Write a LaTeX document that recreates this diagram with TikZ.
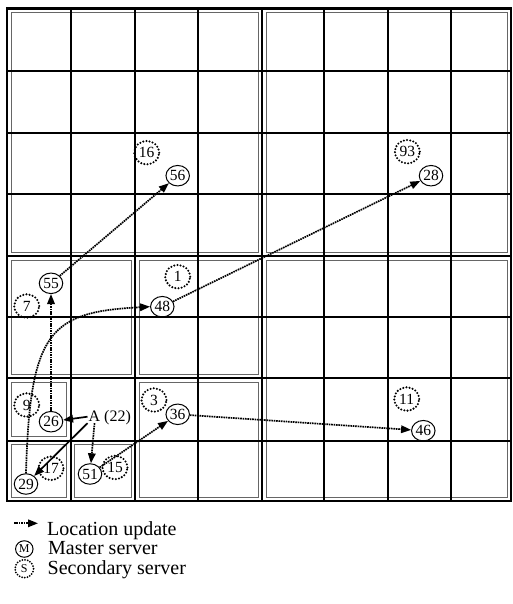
\documentclass[tikz,border=0pt]{standalone}
\usepackage{fontspec}
\setmainfont{Liberation Serif}
\usetikzlibrary{arrows.meta,shapes.geometric}
\begin{document}
\begin{tikzpicture}[x=1pt,y=-1pt,
  gridline/.style={line width=1.9pt},
  heavyline/.style={line width=2.6pt},
  frame/.style={draw=black!60, line width=1pt},
  master/.style={ellipse, draw, line width=1pt, inner sep=0pt, minimum width=23.5pt, minimum height=20.5pt, font=\fontsize{15.5}{16}\selectfont},
  slave/.style={ellipse, draw, line width=2.3pt, dash pattern=on 0pt off 3.2pt, line cap=round, inner sep=0pt, minimum width=25pt, minimum height=23.5pt, font=\fontsize{15.5}{16}\selectfont},
  lmaster/.style={master, minimum width=17.5pt, minimum height=16.5pt, font=\fontsize{12}{12}\selectfont},
  lslave/.style={slave, minimum width=18.5pt, minimum height=18pt, line width=2pt, dash pattern=on 0pt off 2.7pt, font=\fontsize{12}{12}\selectfont},
  upd/.style={line width=1.7pt, dash pattern=on 1.6pt off 0.8pt, -{Triangle[length=10pt,width=7.5pt]}},
  solidarrow/.style={line width=1.7pt, -{Triangle[length=10pt,width=7.5pt]}},
  lbl/.style={font=\fontsize{20}{21}\selectfont, anchor=base west, inner sep=0pt},
  atext/.style={font=\fontsize{16}{17}\selectfont, inner sep=1pt}
]
\useasboundingbox (0,0) rectangle (513,604);
\newcommand\frbox[4]{\draw[frame] ({#1+4},{#2+4}) rectangle ({#3-4},{#4-4});}
% gray inner frames of the regions
\frbox{7}{8.5}{262}{256}
\frbox{262}{8.5}{511}{256}
\frbox{262}{256}{511}{501}
\frbox{7}{256}{135}{378}
\frbox{135}{256}{262}{378}
\frbox{135}{378}{262}{501}
\frbox{7}{378}{70.7}{440.7}
\frbox{7}{440.7}{70.7}{501}
\frbox{70.7}{440.7}{135}{501}
% black grid
\foreach \x in {70.7,135,198.3,324,388,451}
  \draw[gridline] (\x,8.5) -- (\x,501);
\foreach \y in {71,133,194,316.7,378,440.7}
  \draw[gridline] (7,\y) -- (511,\y);
\draw[heavyline] (262,8.5) -- (262,501);
\draw[heavyline] (7,256) -- (511,256);
\draw[heavyline] (7,8.5) rectangle (511,501);
% servers
\node[slave] (s16) at (146.7,152.7) {16};
\node[master] (m56) at (177.7,175.7) {56};
\node[slave] (s93) at (407.3,151.7) {93};
\node[master] (m28) at (431,175.7) {28};
\node[master] (m55) at (51,283.3) {55};
\node[slave] (s7) at (26.7,306) {7};
\node[slave] (s1) at (177.7,276.7) {1};
\node[master] (m48) at (162.3,306.7) {48};
\node[slave] (s9) at (26.7,405) {9};
\node[master] (m26) at (51,421.7) {26};
\node[slave] (s3) at (154,400) {3};
\node[master] (m36) at (177.7,414.3) {36};
\node[slave] (s17) at (51,468.3) {17};
\node[master] (m29) at (26,484) {29};
\node[master] (m51) at (90,474) {51};
\node[slave] (s15) at (115,467.5) {15};
\node[slave] (s11) at (406.7,399) {11};
\node[master] (m46) at (423.3,430.7) {46};
% mobile object A
\node[atext] (A) at (94.5,416.7) {A};
\node[atext, anchor=base west, inner sep=0pt] (a22) at ([xshift=2.5pt]A.base east) {(22)};
% location updates
\draw[upd] (m55) -- (m56);
\draw[upd] (m26) -- (m55);
\draw[upd] (m29.north) .. controls (30,330) and (50,312) .. (m48.west);
\draw[upd] (m48) -- (m28);
\draw[upd] (m51) -- (m36);
\draw[upd] (m36) -- (m46);
\draw[solidarrow] (A.west) -- (m26);
\draw[solidarrow] (A.south west) -- (m29);
\draw[upd] (A.south) -- (m51);
% legend
\coordinate (l1) at (14,523.3);
\coordinate (l2) at (38,523.3);
\draw[upd] (l1) -- (l2);
\node[lbl] (t1) at (47,535) {Location update};
\node[lmaster] (lm) at (24.3,549) {M};
\node[lbl] (t2) at (48,554.5) {Master server};
\node[lslave] (ls) at (24.3,568.7) {S};
\node[lbl] (t3) at (47.5,574) {Secondary server};
\end{tikzpicture}
\end{document}
